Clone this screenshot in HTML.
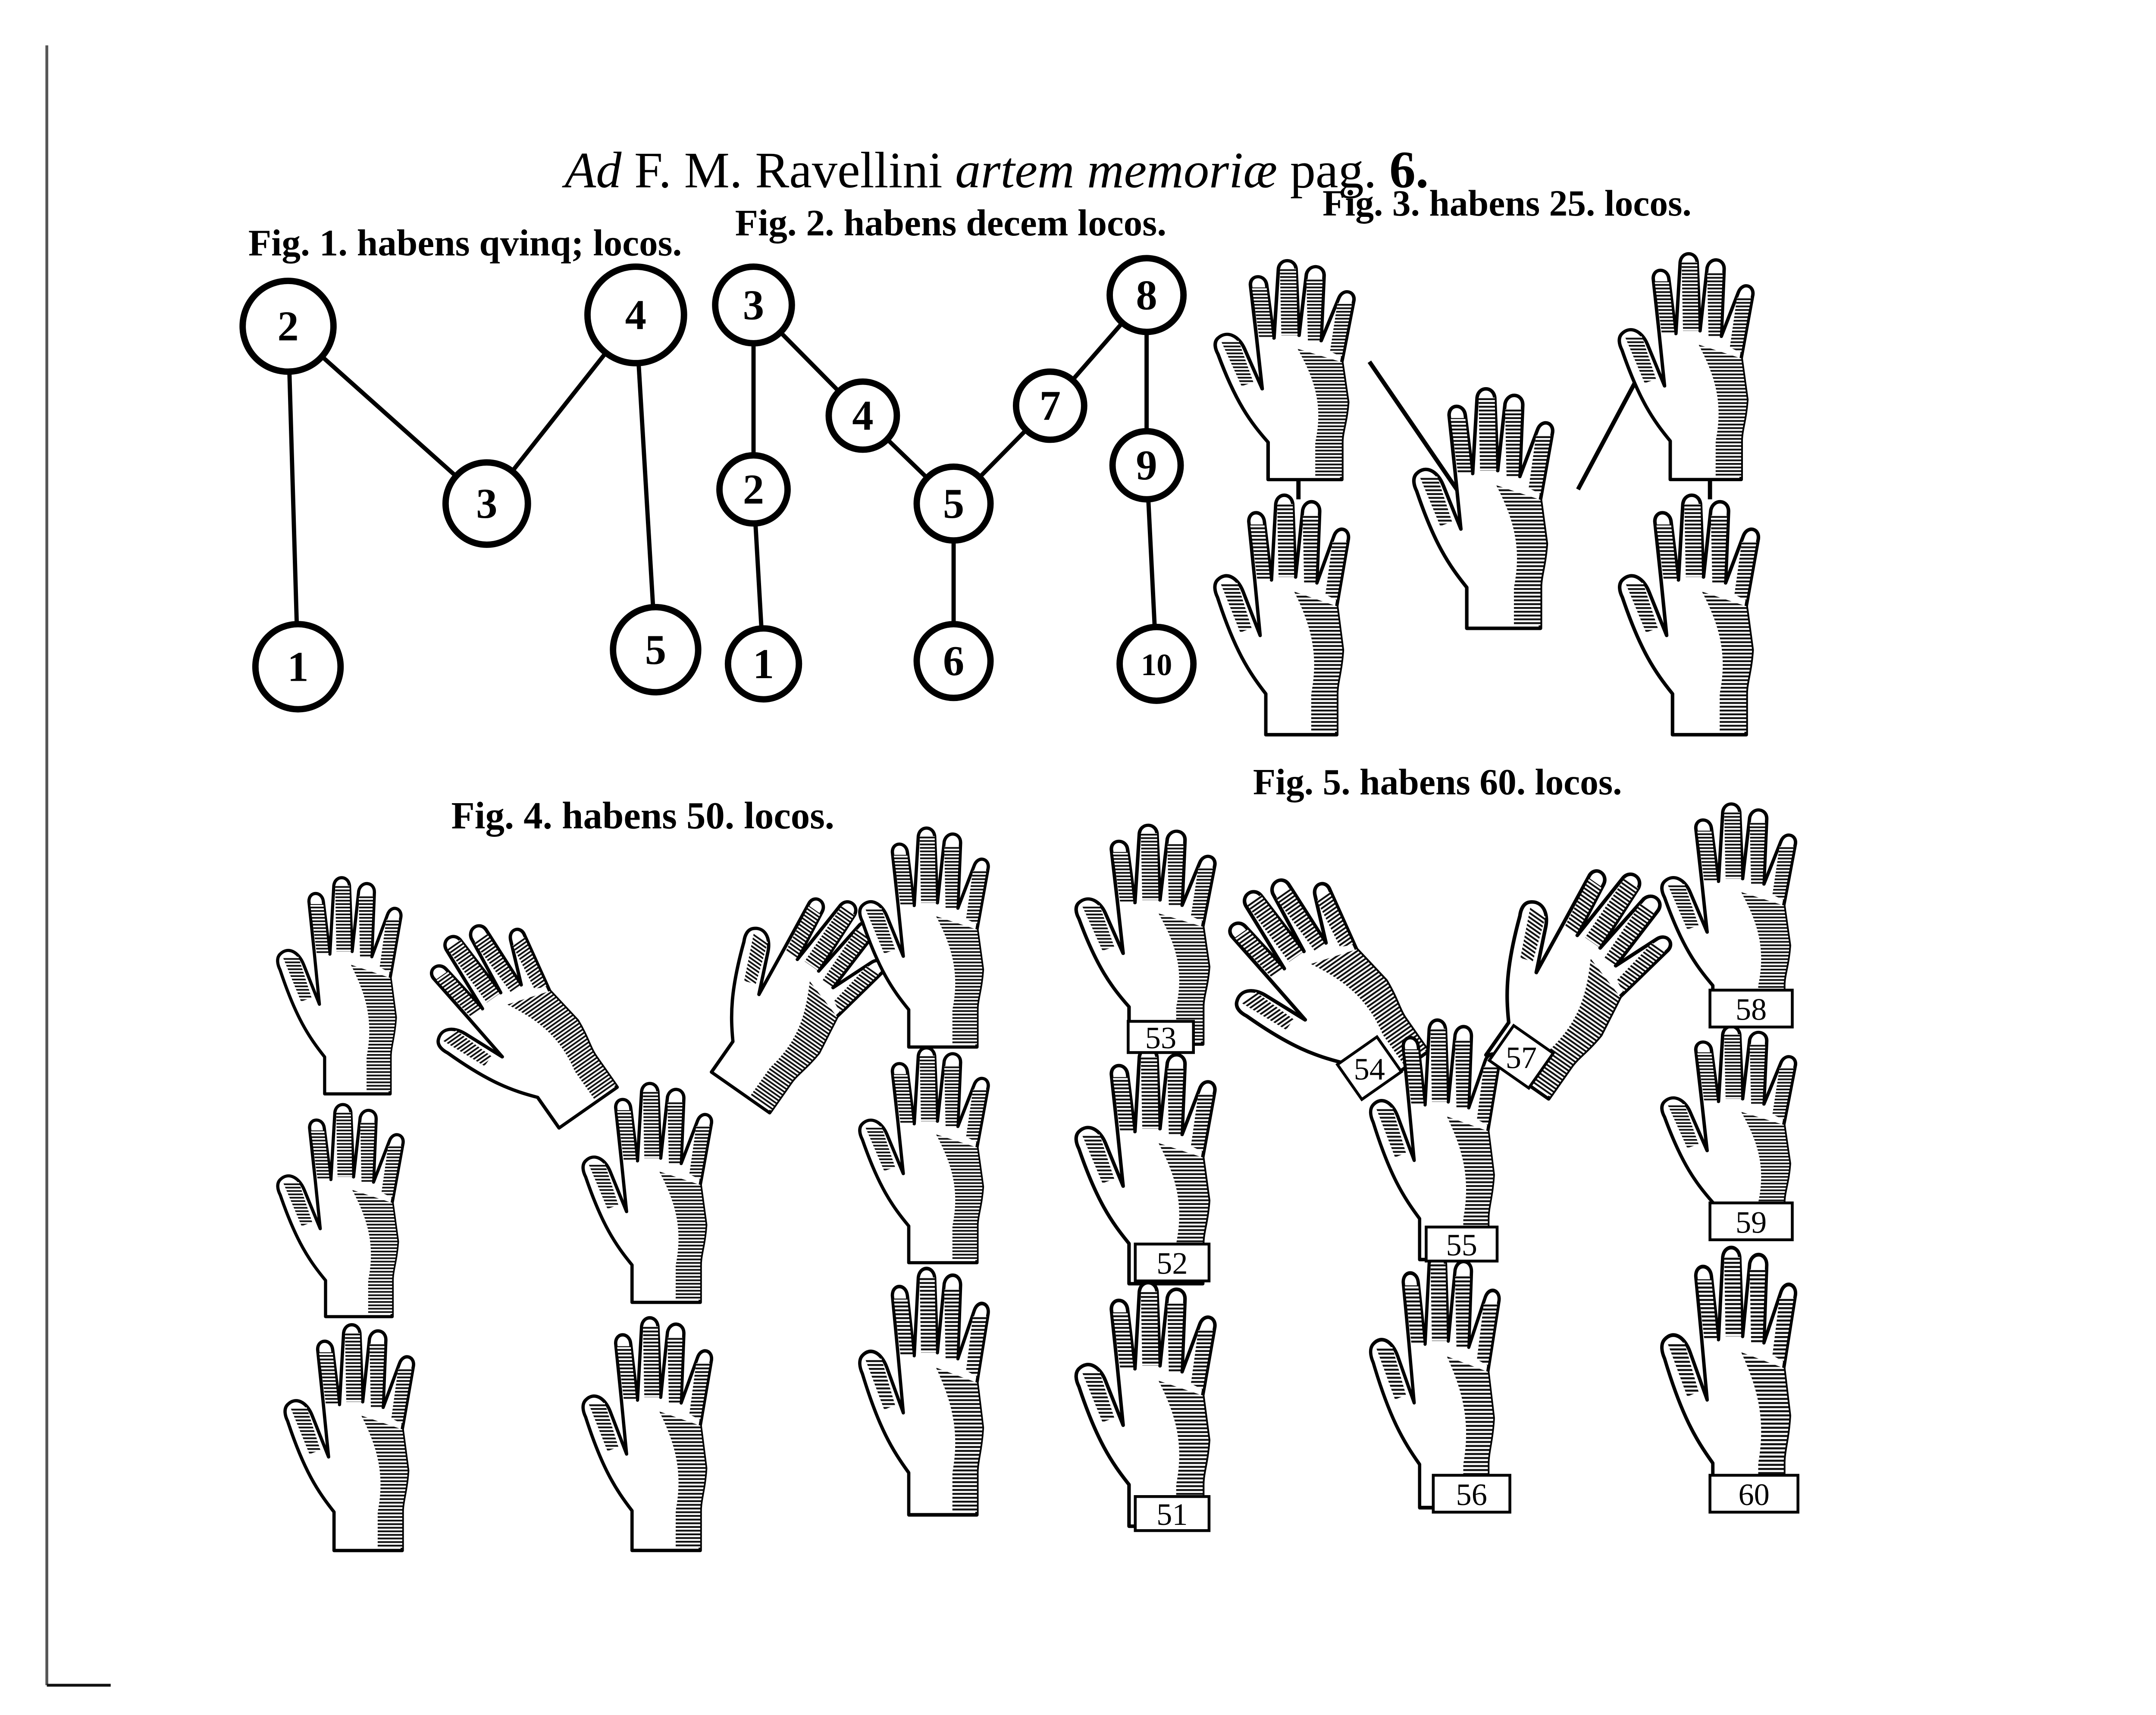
<!DOCTYPE html>
<html><head><meta charset="utf-8"><style>
html,body{margin:0;padding:0;background:#fff;}
svg{display:block;}
</style></head><body>
<svg width="5101" height="3978" viewBox="0 0 1550 1209" preserveAspectRatio="none" xmlns="http://www.w3.org/2000/svg">
<defs>
<pattern id="h" width="4" height="2.6" patternUnits="userSpaceOnUse"><rect width="4" height="2.6" fill="#fff"/><rect y="0" width="4" height="1.3" fill="#111"/></pattern>
<symbol id="hand" viewBox="0 0 130 170" preserveAspectRatio="none">
<g stroke="#000" stroke-width="2.4" fill="#fff" stroke-linejoin="round">
<path d="M8 62 C14 56 22 60 26 70 L38 100 L34 60 L30 22 C30 14 40 14 41 22 L46 62 L49 10 C50 2 60 2 61 10 L63 60 L68 14 C70 6 80 7 80 15 L78 64 L90 32 C93 24 102 27 100 35 L92 80 L96 110 C95 125 92 132 92 140 L92 168 L42 168 L42 140 C30 125 20 110 8 74 C6 70 5 65 8 62 Z"/>
<path d="M62 70 L92 80 L96 110 C95 125 92 132 92 140 L92 166 L74 166 L74 140 C80 110 72 90 62 70Z" fill="url(#h)" stroke="none"/>
<path d="M68 18 L79 18 L77 64 L69 64Z M89 36 L99 36 L92 76 L84 72Z M50 10 L61 10 L62 60 L51 60Z M31 24 L41 24 L45 62 L36 62Z M10 64 L22 64 L32 95 L24 98Z" fill="url(#h)" stroke="none"/>
</g>
</symbol>
</defs>
<rect width="1550" height="1209" fill="#fff"/>
<line x1="33" y1="32" x2="33" y2="1188" stroke="#555" stroke-width="2"/>
<line x1="33" y1="1188" x2="78" y2="1188" stroke="#111" stroke-width="2"/>
<g font-family="Liberation Serif, serif" fill="#000">
<text x="398" y="132" font-size="36"><tspan font-style="italic">Ad</tspan> F. M. Ravellini <tspan font-style="italic">artem memoriæ</tspan> pag. <tspan font-weight="bold" font-size="37">6.</tspan></text>
<text x="175" y="180" font-size="26.5" font-weight="bold" stroke="none">Fig. 1. habens qvinq; locos.</text>
<text x="518" y="166" font-size="26.5" font-weight="bold">Fig. 2. habens decem locos.</text>
<text x="932" y="152" font-size="26" font-weight="bold">Fig. 3. habens 25. locos.</text>
<text x="318" y="584" font-size="27" font-weight="bold">Fig. 4. habens 50. locos.</text>
<text x="883" y="560" font-size="26" font-weight="bold">Fig. 5. habens 60. locos.</text>
</g>
<g stroke="#000" stroke-width="3" fill="none">
<line x1="203" y1="230" x2="210" y2="470"/><line x1="203" y1="230" x2="343" y2="355"/><line x1="343" y1="355" x2="448" y2="222"/><line x1="448" y1="222" x2="462" y2="458"/>
<line x1="531" y1="215" x2="531" y2="345"/><line x1="531" y1="345" x2="538" y2="468"/><line x1="531" y1="215" x2="608" y2="293"/><line x1="608" y1="293" x2="672" y2="355"/><line x1="672" y1="355" x2="672" y2="466"/><line x1="672" y1="355" x2="740" y2="286"/><line x1="740" y1="286" x2="808" y2="208"/><line x1="808" y1="208" x2="808" y2="328"/><line x1="808" y1="328" x2="815" y2="468"/>
<line x1="965" y1="255" x2="1030" y2="350"/><line x1="1160" y1="255" x2="1112" y2="345"/>
<line x1="915" y1="335" x2="915" y2="352"/><line x1="1205" y1="335" x2="1205" y2="352"/>
</g>
<g stroke="#000" stroke-width="4.5" fill="#fff">
<circle cx="203" cy="230" r="32"/><circle cx="448" cy="222" r="34"/><circle cx="343" cy="355" r="29"/><circle cx="210" cy="470" r="30"/><circle cx="462" cy="458" r="30"/>
<circle cx="531" cy="215" r="27"/><circle cx="808" cy="208" r="26"/><circle cx="608" cy="293" r="24"/><circle cx="740" cy="286" r="24"/><circle cx="531" cy="345" r="24"/><circle cx="808" cy="328" r="24"/><circle cx="672" cy="355" r="26"/><circle cx="538" cy="468" r="25"/><circle cx="672" cy="466" r="26"/><circle cx="815" cy="468" r="26"/>
</g>
<g font-family="Liberation Serif, serif" font-size="30" font-weight="bold" text-anchor="middle" fill="#000">
<text x="203" y="240">2</text><text x="448" y="232">4</text><text x="343" y="365">3</text><text x="210" y="480">1</text><text x="462" y="468">5</text>
<text x="531" y="225">3</text><text x="808" y="218">8</text><text x="608" y="303">4</text><text x="740" y="296">7</text><text x="531" y="355">2</text><text x="808" y="338">9</text><text x="672" y="365">5</text><text x="538" y="478">1</text><text x="672" y="476">6</text><text x="815" y="476" font-size="22">10</text>
</g>
<g>
<use href="#hand" x="850" y="180" width="135" height="160"/>
<use href="#hand" x="850" y="345" width="130" height="175"/>
<use href="#hand" x="990" y="270" width="135" height="175"/>
<use href="#hand" x="1135" y="175" width="130" height="165"/>
<use href="#hand" x="1135" y="345" width="135" height="175"/>

<use href="#hand" x="190" y="615" width="120" height="158"/>
<use href="#hand" x="190" y="775" width="122" height="155"/>
<use href="#hand" x="195" y="930" width="125" height="165"/>
<use href="#hand" x="-65" y="-80" width="130" height="160" transform="translate(368,718) rotate(-35)"/>
<use href="#hand" x="-65" y="-80" width="130" height="160" transform="translate(565,705) rotate(35)"/>
<use href="#hand" x="405" y="760" width="125" height="160"/>
<use href="#hand" x="405" y="925" width="125" height="170"/>
<use href="#hand" x="600" y="580" width="125" height="160"/>
<use href="#hand" x="600" y="735" width="125" height="157"/>
<use href="#hand" x="600" y="890" width="125" height="180"/>

<use href="#hand" x="752" y="578" width="135" height="160"/>
<use href="#hand" x="752" y="735" width="135" height="172"/>
<use href="#hand" x="752" y="900" width="135" height="178"/>
<use href="#hand" x="-70" y="-85" width="140" height="170" transform="translate(935,690) rotate(-35)"/>
<use href="#hand" x="-70" y="-85" width="140" height="170" transform="translate(1115,690) rotate(35)"/>
<use href="#hand" x="960" y="715" width="125" height="175"/>
<use href="#hand" x="960" y="880" width="125" height="185"/>
<use href="#hand" x="1165" y="563" width="130" height="160"/>
<use href="#hand" x="1165" y="720" width="130" height="155"/>
<use href="#hand" x="1165" y="875" width="130" height="190"/>
</g>
<g stroke="#000" stroke-width="2" fill="#fff">
<rect x="800" y="1055" width="52" height="24"/><rect x="800" y="877" width="52" height="26"/><rect x="795" y="720" width="46" height="22"/>
<rect x="1010" y="1040" width="54" height="26"/><rect x="1005" y="865" width="50" height="24"/>
<rect x="1205" y="1040" width="62" height="26"/><rect x="1205" y="848" width="58" height="26"/><rect x="1205" y="698" width="58" height="26"/>
<rect x="948" y="738" width="34" height="30" transform="rotate(-35 965 753)"/><rect x="1055" y="730" width="34" height="30" transform="rotate(35 1072 745)"/>
</g>
<g font-family="Liberation Serif, serif" font-size="22" text-anchor="middle" fill="#000">
<text x="826" y="1075">51</text><text x="826" y="898">52</text><text x="818" y="739">53</text>
<text x="1037" y="1061">56</text><text x="1030" y="885">55</text>
<text x="1236" y="1061">60</text><text x="1234" y="869">59</text><text x="1234" y="719">58</text>
<text x="965" y="761">54</text><text x="1072" y="753">57</text>
</g>
</svg>
</body></html>
